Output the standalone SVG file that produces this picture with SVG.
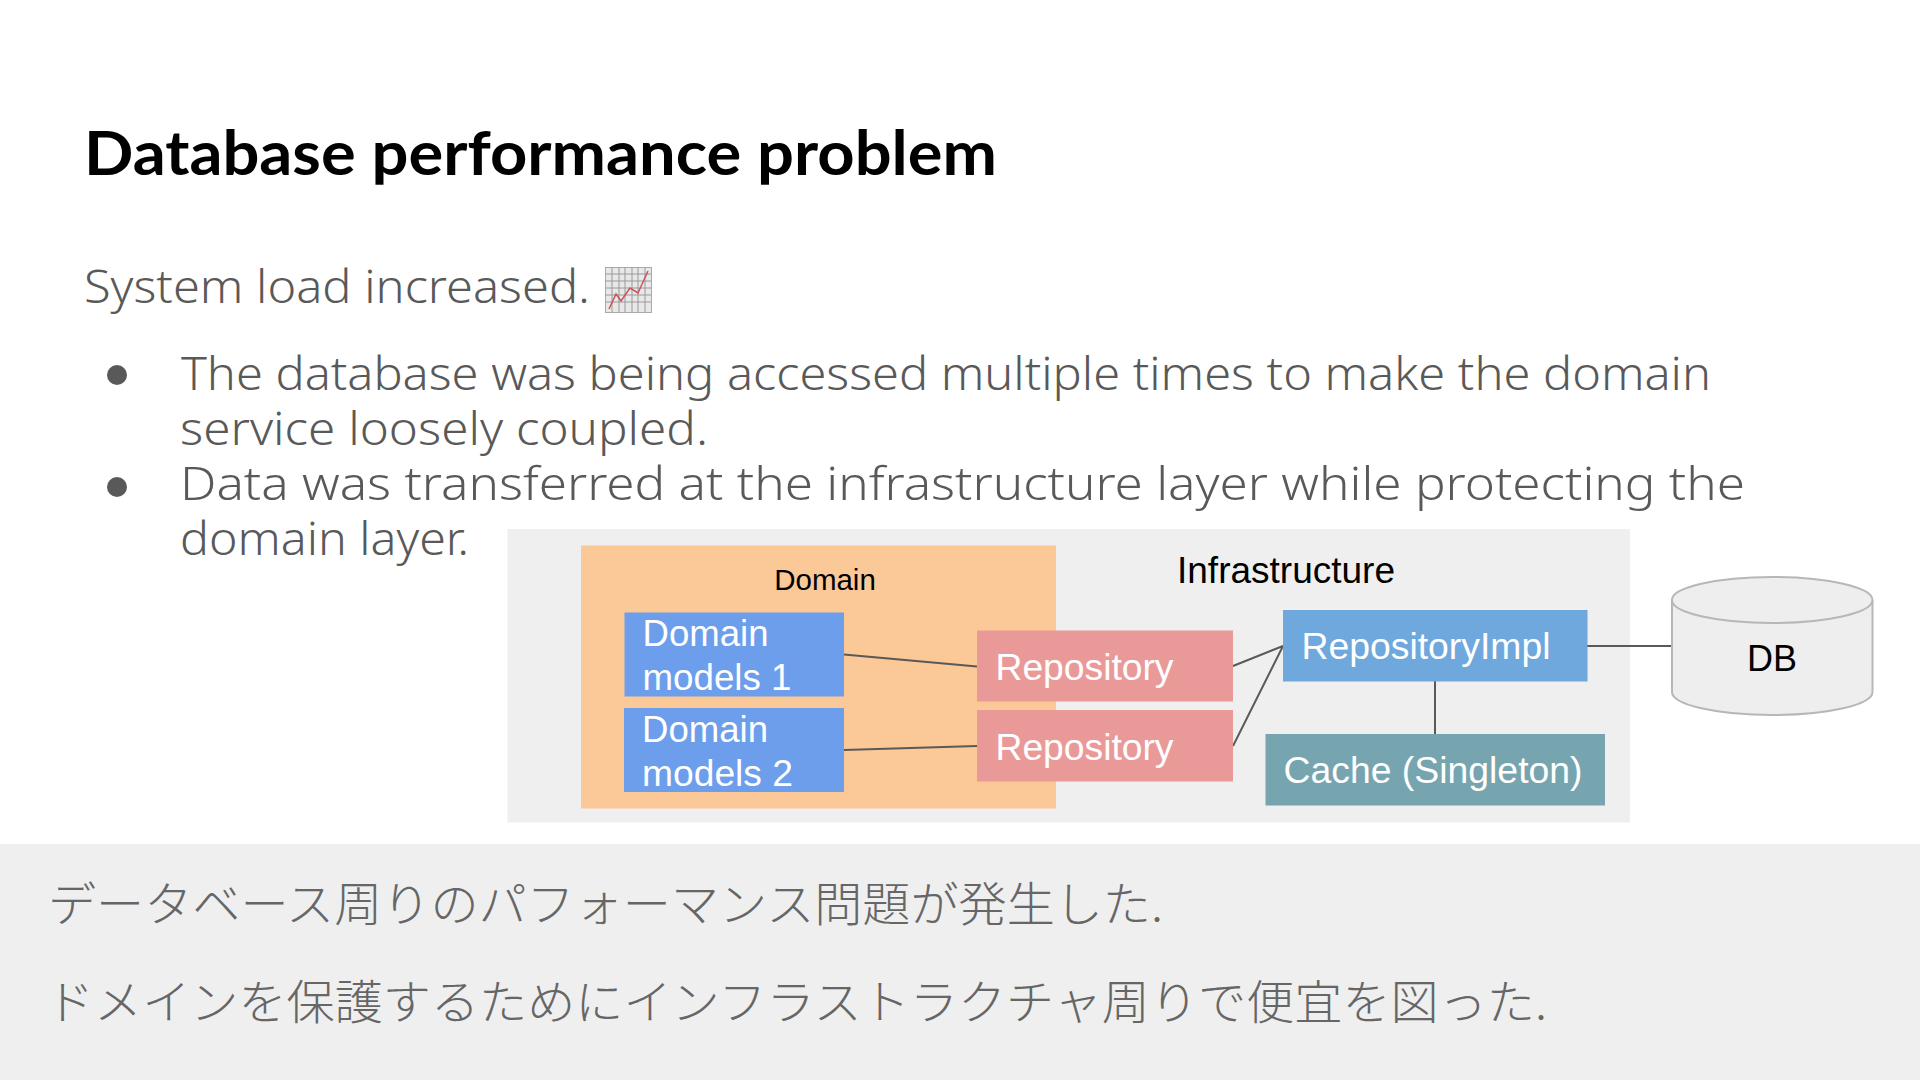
<svg xmlns="http://www.w3.org/2000/svg" width="1920" height="1080" viewBox="0 0 1920 1080">
<style>
text{white-space:pre}
.title{font-family:"Lato","Noto Sans",sans-serif;font-weight:700;font-size:62px;fill:#000}
.body{font-family:"Noto Sans","Open Sans",sans-serif;font-weight:300;font-size:46px;fill:#595959}
.jp{font-family:"Noto Sans CJK JP",sans-serif;font-weight:300;font-size:47px;fill:#666}
.w{font-family:"Liberation Sans",Arial,sans-serif;font-size:37px;fill:#fff}
.k{font-family:"Liberation Sans",Arial,sans-serif;fill:#000}
.c{stroke:#595959;stroke-width:2;fill:none}
.grid{stroke:#9a9a9a;stroke-width:1;fill:none}
</style>
<rect width="1920" height="1080" fill="#fff"/>
<rect y="844" width="1920" height="236" fill="#efefef"/>
<g id="text">
<text class="title" x="84" y="175" textLength="913" lengthAdjust="spacingAndGlyphs">Database performance problem</text>
<text class="body" x="84" y="303" textLength="506" lengthAdjust="spacingAndGlyphs">System load increased.</text>
<circle cx="117" cy="375" r="10" fill="#595959"/>
<circle cx="117" cy="487" r="10" fill="#595959"/>
<text class="body" x="181" y="390" textLength="1530" lengthAdjust="spacingAndGlyphs">The database was being accessed multiple times to make the domain</text>
<text class="body" x="180" y="445" textLength="528" lengthAdjust="spacingAndGlyphs">service loosely coupled.</text>
<text class="body" x="180" y="500" textLength="1565" lengthAdjust="spacingAndGlyphs">Data was transferred at the infrastructure layer while protecting the</text>
<text class="body" x="180" y="555" textLength="289" lengthAdjust="spacingAndGlyphs">domain layer.</text>
<text class="jp" x="48" y="921" textLength="1115" lengthAdjust="spacingAndGlyphs">データベース周りのパフォーマンス問題が発生した.</text>
<text class="jp" x="46" y="1019" textLength="1501" lengthAdjust="spacingAndGlyphs">ドメインを保護するためにインフラストラクチャ周りで便宜を図った.</text>
</g>
<g id="chart-icon">
<rect x="605.5" y="267.5" width="46" height="45" fill="#e8e8e8" stroke="#aaa" stroke-width="1"/>
<path class="grid" d="M612 267v45M619 267v45M625 267v45M632 267v45M638 267v45M645 267v45M605 274h46M605 281h46M605 288h46M605 295h46M605 302h46"/>
<path d="M609 309L616 294L621 301L630 288L638 293L648 271" fill="none" stroke="#d0505a" stroke-width="1.5"/>
</g>
<rect id="panel" x="507.5" y="529" width="1122.5" height="293.5" fill="#efefef"/>
<g id="domain">
<rect x="581" y="545.5" width="475" height="263" fill="#fbc898"/>
<text class="k" x="825" y="590" font-size="29.5" text-anchor="middle">Domain</text>
</g>
<g id="infrastructure-label">
<text class="k" x="1177" y="583" font-size="36" textLength="218" lengthAdjust="spacingAndGlyphs">Infrastructure</text>
</g>
<g id="connectors">
<path class="c" d="M844 654.5L977 666.5"/>
<path class="c" d="M844 750L977 746"/>
<path class="c" d="M1233 666L1283 646"/>
<path class="c" d="M1233 746L1283 646"/>
<path class="c" d="M1587 646H1672"/>
<path class="c" d="M1435 681V734"/>
</g>
<g id="domain-models-1">
<rect x="624.5" y="612.5" width="219.5" height="84" fill="#6d9eeb"/>
<text class="w" x="642.5" y="646" textLength="126" lengthAdjust="spacingAndGlyphs">Domain</text>
<text class="w" x="642.5" y="690" textLength="149" lengthAdjust="spacingAndGlyphs">models 1</text>
</g>
<g id="domain-models-2">
<rect x="624" y="708" width="220" height="84" fill="#6d9eeb"/>
<text class="w" x="642" y="741.5" textLength="126" lengthAdjust="spacingAndGlyphs">Domain</text>
<text class="w" x="642" y="786" textLength="151" lengthAdjust="spacingAndGlyphs">models 2</text>
</g>
<g id="repository-1">
<rect x="977" y="630.5" width="256" height="71" fill="#ea9999"/>
<text class="w" x="995.5" y="680" textLength="178" lengthAdjust="spacingAndGlyphs">Repository</text>
</g>
<g id="repository-2">
<rect x="977" y="710" width="256" height="71.5" fill="#ea9999"/>
<text class="w" x="995.5" y="760" textLength="178" lengthAdjust="spacingAndGlyphs">Repository</text>
</g>
<g id="repository-impl">
<rect x="1283" y="610" width="304.5" height="71.5" fill="#6fa8dc"/>
<text class="w" x="1301.5" y="659" textLength="249" lengthAdjust="spacingAndGlyphs">RepositoryImpl</text>
</g>
<g id="cache">
<rect x="1265.5" y="734" width="339.5" height="71.5" fill="#76a5af"/>
<text class="w" x="1283.5" y="783" textLength="299" lengthAdjust="spacingAndGlyphs">Cache (Singleton)</text>
</g>
<g id="db">
<path d="M1672 600V692A100 23 0 0 0 1872.5 692V600" fill="#eeeeee" stroke="#b7b7b7" stroke-width="2"/>
<ellipse cx="1772.2" cy="600" rx="100.3" ry="23" fill="#eeeeee" stroke="#b7b7b7" stroke-width="2"/>
<text class="k" x="1772" y="671" font-size="36" text-anchor="middle">DB</text>
</g>
</svg>
